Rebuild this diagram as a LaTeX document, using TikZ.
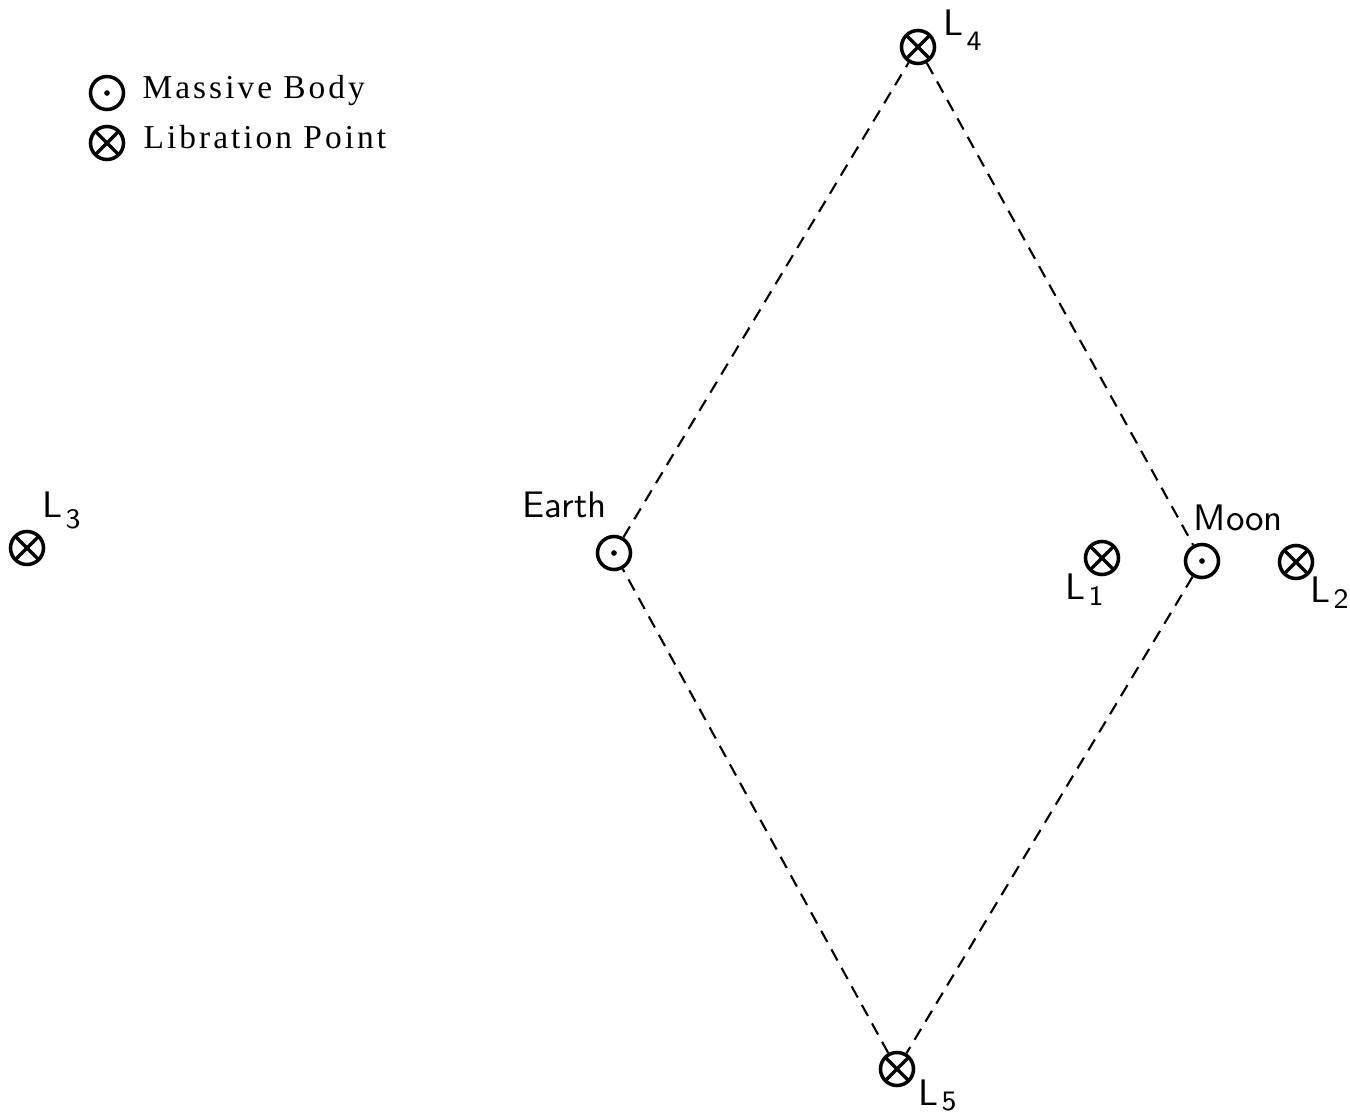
\documentclass[tikz,border=0pt]{standalone}
\usepackage{fontspec}
\newfontfamily\keyfont[LetterSpace=9]{Liberation Serif}

% L with a dropped index
\newcommand{\Lname}[2][2.5pt]{L\kern0.8pt\raisebox{-#1}{\footnotesize #2}}

\begin{document}
\begin{tikzpicture}[
    x=0.01cm, y=-0.01cm,
    symb/.style={circle, draw, line width=1pt, minimum size=0.33cm, inner sep=0pt},
    body/.style={symb, path picture={\fill (path picture bounding box.center) circle (0.8pt);}},
    libpt/.style={symb, path picture={\draw[line width=1pt]
        (path picture bounding box.north west) -- (path picture bounding box.south east)
        (path picture bounding box.north east) -- (path picture bounding box.south west);}},
    orbit/.style={line width=0.6pt, dash pattern=on 3.6pt off 2.4pt},
    tag/.style={inner sep=0pt, anchor=base west, font=\sffamily\fontsize{10.5}{12}\selectfont},
    key/.style={inner sep=0pt, anchor=base west, font=\keyfont\fontsize{9.5}{11}\selectfont}
  ]
  \useasboundingbox (0,0) rectangle (1350,1118);

  % Legend
  \node[body]  (keybody) at (107,93) {};
  \node[libpt] (keylib)  at (107,143) {};
  \node[key] (keybodytext) at (142,98)  {Massive Body};
  \node[key] (keylibtext)  at (143,148) {Libration Point};

  % Massive bodies
  \node[body] (earth) at (614,553) {};
  \node[body] (moon)  at (1202,561) {};

  % Libration points
  \node[libpt] (l1) at (1102,558) {};
  \node[libpt] (l2) at (1296,562) {};
  \node[libpt] (l3) at (27,548) {};
  \node[libpt] (l4) at (918,47) {};
  \node[libpt] (l5) at (897,1069) {};

  % Labels
  \node[tag] (earthlbl) at (522,518)  {Earth};
  \node[tag] (moonlbl)  at (1193,530) {Moon};
  \node[tag] (l1lbl) at (1065,600) {\Lname[1.5pt]{1}};
  \node[tag] (l2lbl) at (1310,603) {\Lname[1.5pt]{2}};
  \node[tag] (l3lbl) at (42,518)   {\Lname[3pt]{3}};
  \node[tag] (l4lbl) at (943,35)   {\Lname[4.5pt]{4}};
  \node[tag] (l5lbl) at (918,1105) {\Lname[1.5pt]{5}};

  % Triangles
  \draw[orbit] (earth) -- (l4);
  \draw[orbit] (l4) -- (moon);
  \draw[orbit] (moon) -- (l5);
  \draw[orbit] (l5) -- (earth);
\end{tikzpicture}
\end{document}
